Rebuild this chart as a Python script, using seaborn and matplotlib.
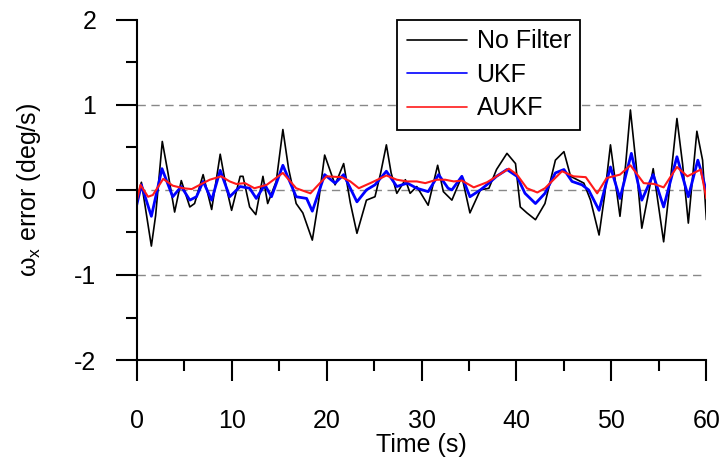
import matplotlib
matplotlib.use("Agg")
import pandas as pd
import seaborn as sns
from matplotlib import pyplot as plt
from matplotlib.ticker import MultipleLocator

# values
t_raw = [0, 0.5, 1.55, 2.0, 2.7, 3.3, 4.0, 4.7, 5.6, 6.1, 7.0, 7.9, 8.8, 9.4,
         10.0, 10.9, 11.2, 11.9, 12.55, 13.3, 13.8, 14.7, 15.4, 16.0, 16.8,
         17.5, 18.5, 19.2, 19.8, 20.9, 21.8, 22.5, 23.2, 24.2, 25.1, 25.7,
         26.3, 26.8, 27.4, 28.3, 28.8, 29.5, 30.7, 31.7, 32.3, 33.2, 34.25,
         35.1, 36.2, 37.1, 37.9, 39.0, 39.9, 40.4, 41.1, 42.0, 43.0, 44.1,
         45.0, 45.7, 46.4, 47.1, 47.8, 48.7, 49.3, 49.9, 50.9, 51.5, 52.0,
         52.6, 53.2, 54.4, 55.5, 56.2, 56.9, 57.5, 58.1, 59.0, 59.6, 60.0]
v_raw = [-0.12, 0.09, -0.66, -0.3, 0.57, 0.2, -0.26, 0.11, -0.2, -0.16, 0.18,
         -0.23, 0.42, 0.05, -0.24, 0.16, 0.16, -0.2, -0.29, 0.16, -0.16, 0.1,
         0.71, 0.25, -0.16, -0.27, -0.59, -0.1, 0.41, 0.06, 0.31, -0.15, -0.51,
         -0.12, -0.08, 0.2, 0.53, 0.2, -0.04, 0.12, -0.04, 0.04, -0.18, 0.29,
         -0.02, -0.12, 0.16, -0.27, 0.0, 0.02, 0.24, 0.43, 0.31, -0.2, -0.27,
         -0.35, -0.16, 0.35, 0.45, 0.16, 0.12, 0.08, -0.12, -0.53, -0.05, 0.53,
         -0.31, 0.3, 0.94, 0.3, -0.45, 0.25, -0.61, 0.1, 0.84, 0.3, -0.39,
         0.69, 0.35, -0.35]

t_ukf = [0, 0.5, 1.55, 2.67, 3.8, 4.7, 5.6, 6.3, 7.0, 7.9, 8.8, 9.8, 10.9,
         11.9, 12.6, 13.5, 14.2, 15.4, 16.8, 17.9, 18.5, 19.8, 20.9, 21.8,
         23.2, 24.2, 25.1, 26.3, 27.4, 28.5, 29.5, 30.7, 31.8, 32.8, 33.2,
         34.25, 35.1, 36.2, 37.1, 37.9, 39.0, 40.05, 40.9, 42.0, 43.0, 44.1,
         45.0, 45.85, 46.9, 47.6, 48.7, 49.9, 50.9, 52.1, 53.2, 54.4, 55.5,
         56.9, 58.1, 59.1, 59.5, 60.0]
v_ukf = [-0.18, 0.06, -0.31, 0.25, -0.08, 0.04, -0.12, -0.08, 0.10, -0.12,
         0.23, -0.08, 0.04, 0.02, -0.10, 0.06, -0.08, 0.29, -0.08, -0.10,
         -0.25, 0.18, 0.08, 0.18, -0.14, 0.0, 0.06, 0.22, 0.04, 0.08, 0.02,
         -0.02, 0.18, 0.02, 0.0, 0.16, -0.08, 0.0, 0.08, 0.16, 0.24, 0.16,
         -0.04, -0.16, -0.04, 0.20, 0.24, 0.10, 0.06, 0.0, -0.24, 0.27, -0.10,
         0.43, -0.12, 0.18, -0.20, 0.39, -0.08, 0.35, 0.20, -0.02]

t_aukf = [0, 0.4, 1.2, 1.7, 2.8, 3.8, 4.9, 5.8, 7.0, 7.7, 8.9, 9.8, 10.5,
          11.4, 12.4, 13.7, 15.4, 16.8, 18.3, 19.3, 20.0, 21.6, 22.5, 23.4,
          24.8, 26.3, 27.4, 28.5, 29.5, 30.4, 31.6, 32.5, 33.4, 34.25, 35.5,
          36.9, 37.9, 39.2, 40.05, 41.1, 42.2, 43.0, 44.8, 46.0, 47.3, 48.5,
          49.5, 50.9, 52.0, 53.4, 54.5, 55.5, 56.9, 58.0, 59.4, 60.0]
v_aukf = [-0.14, 0.06, -0.08, -0.06, 0.13, 0.05, 0.02, 0.01, 0.08, 0.12, 0.16,
          0.10, 0.07, 0.08, 0.02, 0.06, 0.20, 0.02, -0.04, 0.08, 0.16, 0.15,
          0.10, 0.02, 0.09, 0.17, 0.12, 0.10, 0.10, 0.08, 0.12, 0.12, 0.10,
          0.11, 0.03, 0.09, 0.16, 0.25, 0.18, 0.02, -0.03, 0.02, 0.22, 0.16,
          0.15, -0.04, 0.14, 0.18, 0.29, 0.08, 0.07, 0.03, 0.27, 0.16, 0.24,
          -0.10]

labels = ["No Filter", "UKF", "AUKF"]
colors = {"No Filter": "black", "UKF": "#0000ff", "AUKF": "#ff1a1a"}
widths = {"No Filter": 1.2, "UKF": 2.0, "AUKF": 1.5}

df = pd.concat([
    pd.DataFrame({"t": t_raw, "v": v_raw, "Filter": "No Filter"}),
    pd.DataFrame({"t": t_ukf, "v": v_ukf, "Filter": "UKF"}),
    pd.DataFrame({"t": t_aukf, "v": v_aukf, "Filter": "AUKF"}),
])

sns.set_style("ticks")
plt.rcParams["font.family"] = ["Liberation Sans", "DejaVu Sans"]
plt.rcParams["mathtext.default"] = "regular"
plt.rcParams["axes.unicode_minus"] = False
for key in ["text.color", "axes.labelcolor", "xtick.color", "ytick.color"]:
    plt.rcParams[key] = "black"

FS = 18

fig = plt.figure(figsize=(7.23, 4.61), dpi=100)
ax = fig.add_axes([0.189, 0.219, 0.788, 0.738])

for y in [-1, 0, 1]:
    ax.axhline(y, color="#888888", lw=1.0, ls=(0, (6, 4)), zorder=0)

for name in labels:
    sns.lineplot(data=df[df["Filter"] == name], x="t", y="v", ax=ax,
                 color=colors[name], lw=widths[name], estimator=None,
                 label=name)

ax.set_xlim(0, 60)
ax.set_ylim(-2, 2)
ax.xaxis.set_major_locator(MultipleLocator(10))
ax.xaxis.set_minor_locator(MultipleLocator(5))
ax.yaxis.set_major_locator(MultipleLocator(1))
ax.yaxis.set_minor_locator(MultipleLocator(0.5))
ax.tick_params(which="major", length=15, width=1.5, labelsize=FS,
               color="black", labelcolor="black")
ax.tick_params(which="minor", length=8, width=1.5, color="black")
ax.tick_params(axis="x", which="major", pad=20)
ax.tick_params(axis="y", which="major", pad=14)
for side in ["top", "right"]:
    ax.spines[side].set_visible(False)
for side in ["left", "bottom"]:
    ax.spines[side].set_linewidth(1.5)
    ax.spines[side].set_color("black")

ax.set_xlabel("Time (s)", fontsize=FS)
ax.set_ylabel("ω$_x$ error (deg/s)", fontsize=FS)
ax.xaxis.set_label_coords(0.5, -0.215)
ax.yaxis.set_label_coords(-0.165, 0.5)

leg = ax.legend(loc="upper left", bbox_to_anchor=(0.457, 1.0),
                borderaxespad=0, fontsize=FS, frameon=True, fancybox=False,
                framealpha=1, handlelength=2.4, handletextpad=0.4,
                labelspacing=0.38, borderpad=0.38)
leg.get_frame().set_edgecolor("black")
leg.get_frame().set_linewidth(1.3)
for line in leg.get_lines():
    line.set_linewidth(1.2)

fig.savefig("out.png", dpi=100)
